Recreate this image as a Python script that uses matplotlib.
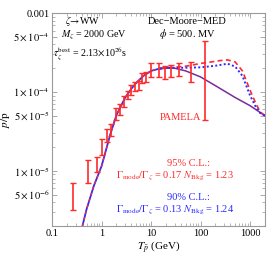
import numpy as np
import matplotlib
matplotlib.use("Agg")
import matplotlib.pyplot as plt
from matplotlib.ticker import FixedLocator, NullFormatter, LogLocator

plt.rcParams['font.family'] = ['Liberation Serif', 'DejaVu Serif']
plt.rcParams['mathtext.fontset'] = 'stix'

# PAMELA data (kinetic energy, lower and upper edge of error bar)
pam_T = [0.27, 0.54, 0.79, 1.03, 1.29, 1.53, 2.0, 2.33, 2.8, 3.4, 4.0, 4.8, 5.7,
         6.7, 7.8, 9.8, 14.3, 19.5, 25, 36, 64, 122]
pam_lo = [3.2e-6, 7.0e-6, 9.7e-6, 1.6e-5, 2.3e-5, 2.8e-5, 4.4e-5, 5.1e-5, 6.5e-5,
          8.2e-5, 9.2e-5, 1.03e-4, 1.06e-4, 1.3e-4, 1.34e-4, 1.55e-4, 1.55e-4,
          1.46e-4, 1.55e-4, 1.6e-4, 1.34e-4, 4.4e-5]
pam_hi = [7.1e-6, 1.38e-5, 1.5e-5, 2.55e-5, 3.4e-5, 3.9e-5, 6.3e-5, 7.0e-5, 8.9e-5,
          1.03e-4, 1.23e-4, 1.34e-4, 1.38e-4, 1.74e-4, 1.79e-4, 2.33e-4, 2.33e-4,
          2.13e-4, 2.2e-4, 2.33e-4, 2.4e-4, 4.4e-4]

# Background curve
bkg_T = [0.41, 0.5, 0.7, 1.0, 1.5, 2.0, 3.0, 4.0, 5.0, 7.0, 10, 15, 22, 30, 50,
         100, 200, 500, 1000, 2000]
bkg_v = [2.0e-6, 3.3e-6, 6.5e-6, 1.15e-5, 2.9e-5, 5.1e-5, 8.5e-5, 1.1e-4, 1.3e-4,
         1.6e-4, 1.85e-4, 1.98e-4, 2.02e-4, 2.0e-4, 1.85e-4, 1.55e-4, 1.2e-4,
         8.5e-5, 6.7e-5, 5.0e-5]

# Signal + background, 95% C.L. (red dashed)
red_T = [0.41, 0.5, 0.7, 1.0, 1.5, 2.0, 3.0, 4.0, 5.0, 7.0, 10, 15, 22, 30, 50, 70,
         100, 150, 250, 350, 500, 700, 1000, 1300, 1600, 2000]
red_v = [2.0e-6, 3.3e-6, 6.5e-6, 1.15e-5, 2.9e-5, 5.1e-5, 8.5e-5, 1.1e-4, 1.3e-4,
         1.6e-4, 1.85e-4, 1.98e-4, 2.03e-4, 2.06e-4, 2.12e-4, 2.2e-4, 2.3e-4,
         2.38e-4, 2.5e-4, 2.55e-4, 2.4e-4, 1.85e-4, 1.05e-4, 7.2e-5, 5.6e-5, 5.0e-5]

# Signal + background, 90% C.L. (blue dotted)
blu_T = [0.41, 0.5, 0.7, 1.0, 1.5, 2.0, 3.0, 4.0, 5.0, 7.0, 10, 15, 22, 30, 50,
         100, 200, 350, 500, 700, 1000, 1300, 1600, 2000]
blu_v = [2.0e-6, 3.3e-6, 6.5e-6, 1.15e-5, 2.9e-5, 5.1e-5, 8.5e-5, 1.1e-4, 1.3e-4,
         1.6e-4, 1.85e-4, 1.98e-4, 2.02e-4, 2.02e-4, 2.03e-4, 2.05e-4, 2.15e-4,
         2.28e-4, 2.1e-4, 1.6e-4, 9.0e-5, 6.5e-5, 5.4e-5, 5.0e-5]

y_ticks = [1e-3, 5e-4, 1e-4, 5e-5, 1e-5, 5e-6]
y_labels = ['0.001', r'$5\times10^{-4}$', r'$1\times10^{-4}$', r'$5\times10^{-5}$',
            r'$1\times10^{-5}$', r'$5\times10^{-6}$']
x_ticks = [0.1, 1, 10, 100, 1000]
x_labels = ['0.1', '1', '10', '100', '1000']

RED = '#ff2a2a'
BLUE = '#2a2aff'
PURPLE = '#7a2a9a'

fig = plt.figure(figsize=(2.67, 2.56), dpi=100)
ax = fig.add_axes([0.195, 0.117, 0.7975, 0.832])
ax.set_xscale('log')
ax.set_yscale('log')
ax.set_xlim(0.1, 2000)
ax.set_ylim(2e-6, 1e-3)

# curves
ax.plot(bkg_T[:13], bkg_v[:13], color=BLUE, lw=1.3, zorder=2)
ax.plot(bkg_T[:12], bkg_v[:12], color=RED, lw=0.9, ls=(0, (2.5, 2.5)), zorder=2.2)
ax.plot(bkg_T[11:], bkg_v[11:], color=PURPLE, lw=1.1, zorder=2.3)
ax.plot(red_T[11:], red_v[11:], color=RED, lw=1.2, ls=(0, (3, 2)), zorder=3)
ax.plot(blu_T[11:], blu_v[11:], color=BLUE, lw=1.4, ls=(0, (1, 1.2)), zorder=3.1)

# PAMELA error bars
pam_T_a = np.array(pam_T)
pam_lo_a = np.array(pam_lo)
pam_hi_a = np.array(pam_hi)
centre = np.sqrt(pam_lo_a * pam_hi_a)
ax.errorbar(pam_T_a, centre, yerr=[centre - pam_lo_a, pam_hi_a - centre], fmt='none',
            ecolor=RED, elinewidth=1.2, capsize=2.0, capthick=1.0, zorder=4)

# axes styling
for sp in ax.spines.values():
    sp.set_color('#9a9a9a')
    sp.set_linewidth(0.8)
ax.tick_params(which='both', direction='in', top=True, right=True, colors='#9a9a9a',
               labelcolor='black', labelsize=7.5, pad=2)
ax.tick_params(which='major', length=3.5, width=0.6)
ax.tick_params(which='minor', length=2, width=0.5)
ax.yaxis.set_major_locator(FixedLocator(y_ticks))
ax.set_yticklabels(y_labels)
ax.yaxis.set_minor_locator(LogLocator(base=10, subs=np.arange(1, 10), numticks=20))
ax.yaxis.set_minor_formatter(NullFormatter())
ax.xaxis.set_major_locator(FixedLocator(x_ticks))
ax.set_xticklabels(x_labels)
ax.xaxis.set_minor_locator(LogLocator(base=10, subs=np.arange(2, 10), numticks=20))
ax.xaxis.set_minor_formatter(NullFormatter())

ax.set_xlabel(r'$T_{\bar{p}}$ (GeV)', fontsize=8, labelpad=1)
ax.set_ylabel(r'$\overline{p}/\mathrm{p}$', fontsize=8, labelpad=0)

# annotations (figure pixel coordinates converted to fractions)
def ftxt(x, y, s, **kw):
    fig.text(x / 267, 1 - y / 256, s, **kw)

ftxt(65, 21, r'$\zeta\!\rightarrow\!$WW', fontsize=7.2, va='center')
ftxt(61, 35, r'$M_\zeta$ = 2000 GeV', fontsize=7.2, va='center')
ftxt(53, 54, r'$\tau_\zeta^{\rm best}$ = 2.13$\times$10$^{26}$s', fontsize=7.2, va='center')
ftxt(187, 22, 'Dec\u2212Moore\u2212MED', fontsize=7.5, ha='center', va='center')
ftxt(187, 34, r'$\phi$ = 500. MV', fontsize=7.5, ha='center', va='center')
ftxt(180, 118, 'PAMELA', fontsize=7.5, ha='center', va='center', color=RED)
ftxt(188, 164, '95% C.L.:', fontsize=7.5, ha='center', va='center', color=RED)
ftxt(175, 176, r'$\Gamma_{\rm mode}/\Gamma_\zeta$ = 0.17 $N_{\rm Bkg}$ = 1.23',
     fontsize=7.5, ha='center', va='center', color=RED)
ftxt(188, 198, '90% C.L.:', fontsize=7.5, ha='center', va='center', color=BLUE)
ftxt(175, 210, r'$\Gamma_{\rm mode}/\Gamma_\zeta$ = 0.13 $N_{\rm Bkg}$ = 1.24',
     fontsize=7.5, ha='center', va='center', color=BLUE)

fig.savefig('out.png', dpi=100)
